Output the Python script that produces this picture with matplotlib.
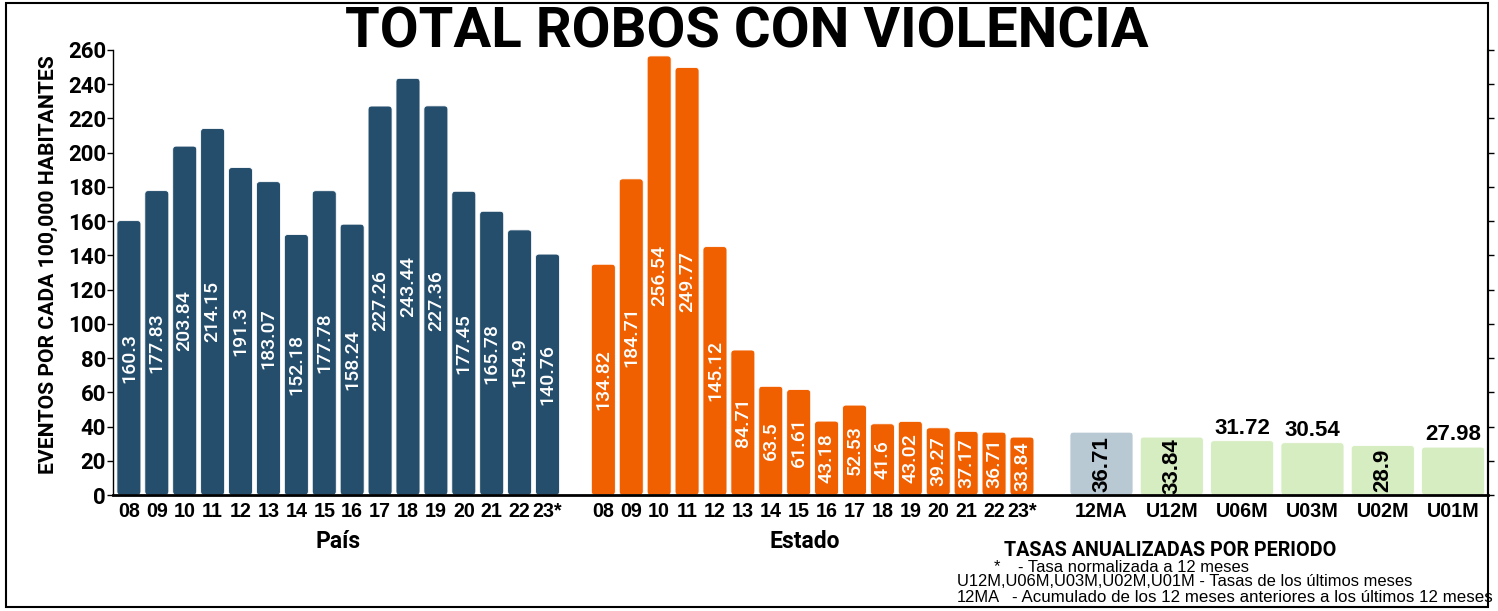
import matplotlib
matplotlib.use("Agg")
import matplotlib.pyplot as plt
from matplotlib.patches import FancyBboxPatch, Rectangle
import numpy as np

# ---------------- data ----------------
year_labels = ['08', '09', '10', '11', '12', '13', '14', '15', '16', '17', '18', '19', '20', '21', '22', '23*']
pais_vals = [160.3, 177.83, 203.84, 214.15, 191.3, 183.07, 152.18, 177.78, 158.24,
             227.26, 243.44, 227.36, 177.45, 165.78, 154.9, 140.76]
estado_vals = [134.82, 184.71, 256.54, 249.77, 145.12, 84.71, 63.5, 61.61, 43.18,
               52.53, 41.6, 43.02, 39.27, 37.17, 36.71, 33.84]
periodo_labels = ['12MA', 'U12M', 'U06M', 'U03M', 'U02M', 'U01M']
periodo_vals = [36.71, 33.84, 31.72, 30.54, 28.9, 27.98]
periodo_label_above = {'U06M', 'U03M', 'U01M'}

title = 'TOTAL ROBOS CON VIOLENCIA'
ylabel = 'EVENTOS POR CADA 100,000 HABITANTES'
group_names = ['País', 'Estado']
tasas_title = 'TASAS ANUALIZADAS POR PERIODO'

# ---------------- style ----------------
C_PAIS = '#254E6C'
C_ESTADO = '#F06000'
C_12MA = '#B9C9D3'
C_PER = '#D6ECC1'
FONT = 'Roboto'
FONT2 = 'Liberation Sans'

W, H, DPI = 1498, 611, 100
fig = plt.figure(figsize=(W / DPI, H / DPI), dpi=DPI)
ax = fig.add_axes([113 / W, 1 - 495 / H, (1488 - 113) / W, (495 - 50) / H])

n = len(year_labels)
x_pais = np.arange(n, dtype=float)
x_estado = np.arange(n, dtype=float) + n + 1
x_per = (2 * n + 2.85) + 2.52 * np.arange(len(periodo_labels))

bw = 0.86
bw_per = 2.26

ax.set_xlim(-0.57, 48.7)
ax.set_ylim(0, 260)

bars_p = ax.bar(x_pais, pais_vals, width=bw, color=C_PAIS)
bars_e = ax.bar(x_estado, estado_vals, width=bw, color=C_ESTADO)
per_colors = [C_12MA] + [C_PER] * (len(periodo_labels) - 1)
bars_g = ax.bar(x_per, periodo_vals, width=bw_per, color=per_colors)

# rounded corners
fig.canvas.draw()
p0 = ax.transData.transform((0, 0))
p1 = ax.transData.transform((1, 1))
px_x = p1[0] - p0[0]
px_y = p1[1] - p0[1]
r_px = 3.5
for container in (bars_p, bars_e, bars_g):
    for r in container:
        x0, y0 = r.get_xy()
        w, h = r.get_width(), r.get_height()
        fb = FancyBboxPatch((x0, y0), w, h,
                            boxstyle=f"round,pad=0,rounding_size={r_px / px_x}",
                            mutation_aspect=px_x / px_y,
                            facecolor=r.get_facecolor(), edgecolor='white',
                            linewidth=0.6, zorder=2)
        ax.add_patch(fb)
        r.remove()

# value labels
for x, v in zip(np.concatenate([x_pais, x_estado]), pais_vals + estado_vals):
    ax.text(x, v / 2, f'{v:g}', rotation=90, ha='center', va='center',
            color='white', fontsize=14, family=FONT, fontweight='medium', zorder=3)

for x, v, lab in zip(x_per, periodo_vals, periodo_labels):
    if lab in periodo_label_above:
        ax.text(x, v + 1.2, f'{v:g}', ha='center', va='bottom', color='black',
                fontsize=16, family=FONT2, fontweight='bold', zorder=3)
    else:
        ax.text(x, v / 2, f'{v:g}', rotation=90, ha='center', va='center', color='black',
                fontsize=16, family=FONT2, fontweight='bold', zorder=3)

# axes styling
ax.set_xticks(list(x_pais) + list(x_estado) + list(x_per))
ax.set_xticklabels(year_labels + year_labels + periodo_labels,
                   fontsize=14.2, fontweight='bold', family=FONT2)
ax.tick_params(axis='x', length=0, pad=5)
ax.set_yticks(np.arange(0, 261, 20))
ax.tick_params(axis='y', length=4, width=1, pad=1, labelsize=16, direction='out')
for t in ax.get_yticklabels():
    t.set_fontweight('bold')
    t.set_family(FONT)
ax.tick_params(axis='y', which='both', right=True, labelright=False)

ax.spines['top'].set_visible(False)
ax.spines['left'].set_linewidth(1)
ax.spines['right'].set_linewidth(1.5)
ax.spines['bottom'].set_linewidth(2)

ax.set_ylabel(ylabel, fontsize=15.2, fontweight='bold', family=FONT, labelpad=4)
ax.yaxis.set_label_coords((58 - 113) / (1488 - 113), (495 - 265) / (495 - 50))

# group labels
xt = ax.get_xaxis_transform()
ax.text(x_pais.mean(), -0.105, group_names[0], transform=xt, ha='center', va='center',
        fontsize=16.5, fontweight='bold', family=FONT)
ax.text(x_estado.mean() - 0.3, -0.105, group_names[1], transform=xt, ha='center', va='center',
        fontsize=16.5, fontweight='bold', family=FONT)

# title
fig.text(0.4987, 1 - 32 / H, title, ha='center', va='center', fontsize=40.5,
         fontweight='bold', family=FONT)

# tasas block
fig.text(1170 / W, 1 - 550 / H, tasas_title, ha='center', va='center',
         fontsize=14.2, fontweight='bold', family=FONT)
note_fs = 11.9
fig.text(997 / W, 1 - 567 / H, '*', ha='center', va='center', fontsize=note_fs, family=FONT2)
fig.text(1018 / W, 1 - 568 / H, '- Tasa normalizada a 12 meses', ha='left', va='center',
         fontsize=note_fs, family=FONT2)
fig.text(957 / W, 1 - 582 / H, 'U12M,U06M,U03M,U02M,U01M - Tasas de los últimos meses',
         ha='left', va='center', fontsize=note_fs, family=FONT2)
fig.text(957 / W, 1 - 597 / H, '12MA', ha='left', va='center', fontsize=note_fs, family=FONT2)
fig.text(1012 / W, 1 - 597 / H, '- Acumulado de los 12 meses anteriores a los últimos 12 meses',
         ha='left', va='center', fontsize=12.2, family=FONT2)

# figure border
fig.patches.append(Rectangle((6 / W, 1 - 607 / H), (1488 - 6) / W, (607 - 3) / H,
                             transform=fig.transFigure, fill=False, edgecolor='black',
                             linewidth=1.5, zorder=10))

fig.savefig('out.png', dpi=DPI)
